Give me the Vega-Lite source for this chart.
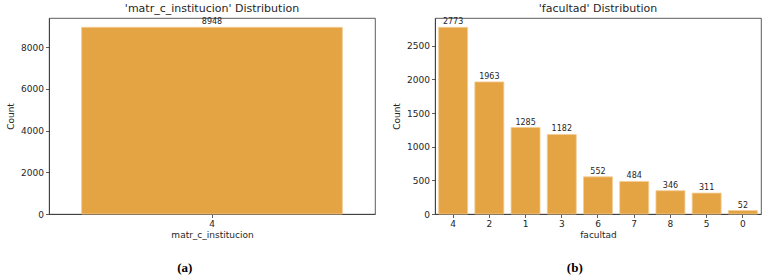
{
  "$schema": "https://vega.github.io/schema/vega-lite/v6.json",
  "background": "white",
  "padding": {"left": 6, "top": 2, "right": 5, "bottom": 3},
  "config": {
    "font": "DejaVu Sans",
    "view": {"stroke": "#333333", "strokeWidth": 0.8},
    "axis": {
      "grid": false,
      "domainColor": "#333333",
      "domainWidth": 0.8,
      "tickColor": "#333333",
      "tickWidth": 0.8,
      "tickSize": 3.5,
      "labelColor": "#262626",
      "labelFontSize": 9,
      "labelPadding": 2,
      "titleColor": "#262626",
      "titleFontSize": 9,
      "titleFontWeight": "normal"
    },
    "axisY": {"titlePadding": 5, "format": "d"},
    "axisX": {"titlePadding": 2},
    "title": {"fontSize": 11, "fontWeight": "normal", "color": "#262626", "offset": 4}
  },
  "spacing": 16,
  "hconcat": [
    {
      "title": {"text": "(a)", "orient": "bottom", "anchor": "middle", "dx": -6, "font": "Liberation Serif", "fontSize": 13, "fontWeight": "bold", "color": "#000000", "offset": 22},
      "vconcat": [
        {
          "width": 326,
          "height": 196,
          "title": "'matr_c_institucion' Distribution",
          "data": {"values": [{"matr_c_institucion": "4", "Count": 8948}]},
          "encoding": {
            "x": {
              "field": "matr_c_institucion",
              "type": "nominal",
              "sort": null,
              "scale": {"paddingInner": 0.2, "paddingOuter": 0.1},
              "axis": {"labelAngle": 0, "title": "matr_c_institucion"}
            },
            "y": {
              "field": "Count",
              "type": "quantitative",
              "scale": {"domain": [0, 9395], "nice": false},
              "axis": {"values": [0, 2000, 4000, 6000, 8000], "title": "Count"}
            }
          },
          "layer": [
            {"mark": {"type": "bar", "color": "#E5A443", "stroke": "#F3CD96", "strokeWidth": 0.8}},
            {
              "mark": {"type": "text", "baseline": "bottom", "dy": -1, "fontSize": 8, "color": "#262626"},
              "encoding": {"text": {"field": "Count", "type": "quantitative", "format": "d"}}
            }
          ]
        }
      ]
    },
    {
      "title": {"text": "(b)", "orient": "bottom", "anchor": "middle", "dx": -2, "font": "Liberation Serif", "fontSize": 13, "fontWeight": "bold", "color": "#000000", "offset": 22},
      "vconcat": [
        {
          "width": 326,
          "height": 196,
          "title": "'facultad' Distribution",
          "data": {
            "values": [
              {"facultad": "4", "Count": 2773},
              {"facultad": "2", "Count": 1963},
              {"facultad": "1", "Count": 1285},
              {"facultad": "3", "Count": 1182},
              {"facultad": "6", "Count": 552},
              {"facultad": "7", "Count": 484},
              {"facultad": "8", "Count": 346},
              {"facultad": "5", "Count": 311},
              {"facultad": "0", "Count": 52}
            ]
          },
          "encoding": {
            "x": {
              "field": "facultad",
              "type": "nominal",
              "sort": null,
              "scale": {"paddingInner": 0.2, "paddingOuter": 0.1},
              "axis": {"labelAngle": 0, "title": "facultad"}
            },
            "y": {
              "field": "Count",
              "type": "quantitative",
              "scale": {"domain": [0, 2912], "nice": false},
              "axis": {"values": [0, 500, 1000, 1500, 2000, 2500], "title": "Count"}
            }
          },
          "layer": [
            {"mark": {"type": "bar", "color": "#E5A443", "stroke": "#F3CD96", "strokeWidth": 0.8}},
            {
              "mark": {"type": "text", "baseline": "bottom", "dy": -1, "fontSize": 8, "color": "#262626"},
              "encoding": {"text": {"field": "Count", "type": "quantitative", "format": "d"}}
            }
          ]
        }
      ]
    }
  ]
}
